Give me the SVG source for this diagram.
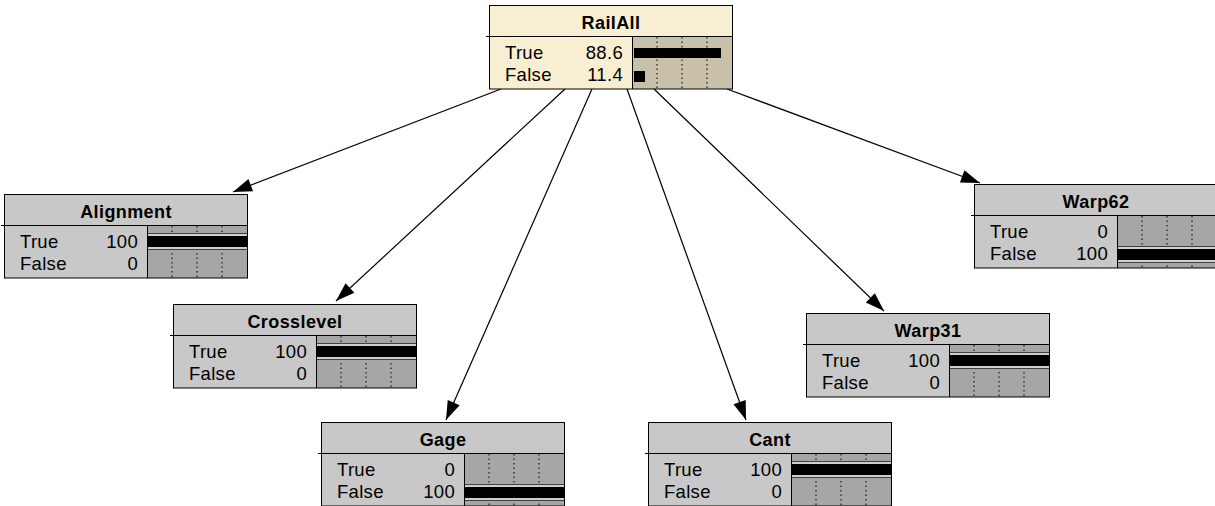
<svg xmlns="http://www.w3.org/2000/svg" xmlns:xlink="http://www.w3.org/1999/xlink" width="1215" height="506" viewBox="0 0 1215 506">
<style>
  .t { font-family: "Liberation Sans", Arial, sans-serif; font-size: 18.5px; letter-spacing: 0.3px; fill: #000; }
  .ttl { font-family: "Liberation Sans", Arial, sans-serif; font-size: 18px; font-weight: bold; letter-spacing: 0.4px; fill: #000; text-anchor: middle; }
  .v { text-anchor: end; }
  .gt { fill: #c8c8c8; }
  .gb { fill: #a6a6a6; }
  .ct { fill: #f8efd2; }
  .cb { fill: #c9c0aa; }
  .ol { fill: none; stroke: #000; stroke-width: 1; }
  .ln { stroke: #000; stroke-width: 1; }
  .tick { stroke: #000; stroke-width: 1; stroke-dasharray: 1.5 3; }
  .bar { fill: #000; }
  .dk { fill: #404040; }
  .lt { fill: #cfcfcf; }
  .edge { stroke: #000; stroke-width: 1.2; fill: none; marker-end: url(#arr); }
</style>
<defs>
  <marker id="arr" markerUnits="userSpaceOnUse" markerWidth="22" markerHeight="16" viewBox="-20 -8 22 16" refX="0" refY="0" orient="auto">
    <path d="M0,0 L-19,-6.5 L-19,6.5 Z" fill="#000"/>
  </marker>
  <g id="ticks">
    <line class="tick" x1="168" y1="32" x2="168" y2="84"/>
    <line class="tick" x1="193" y1="32" x2="193" y2="84"/>
    <line class="tick" x1="218" y1="32" x2="218" y2="84"/>
  </g>
  <g id="full1">
    <rect class="dk" x="143" y="39" width="100" height="1"/>
    <rect class="lt" x="143" y="40" width="100" height="2"/>
    <rect class="bar" x="143" y="42" width="100" height="11"/>
    <rect class="lt" x="143" y="53" width="100" height="2"/>
    <rect class="dk" x="143" y="55" width="100" height="1"/>
  </g>
  <g id="full2">
    <rect class="dk" x="143" y="62" width="100" height="1"/>
    <rect class="lt" x="143" y="63" width="100" height="2"/>
    <rect class="bar" x="143" y="65" width="100" height="11"/>
    <rect class="lt" x="143" y="76" width="100" height="2"/>
    <rect class="dk" x="143" y="78" width="100" height="1"/>
  </g>
  <g id="frame">
    <line class="ln" x1="-3" y1="31.5" x2="243" y2="31.5"/>
    <line class="ln" x1="143.5" y1="31.5" x2="143.5" y2="84"/>
    <rect class="ol" x="0.5" y="0.5" width="243" height="83.5"/>
  </g>
  <g id="labels">
    <text class="t" x="16" y="54">True</text>
    <text class="t" x="16" y="76">False</text>
  </g>
</defs>

<g id="connectors">
  <line class="edge" x1="501" y1="89" x2="233" y2="192"/>
  <line class="edge" x1="565" y1="89" x2="336" y2="301"/>
  <line class="edge" x1="592" y1="89" x2="446" y2="420"/>
  <line class="edge" x1="627" y1="89" x2="746" y2="420"/>
  <line class="edge" x1="654" y1="89" x2="884" y2="311"/>
  <line class="edge" x1="727" y1="89" x2="980" y2="183"/>
</g>

<g id="RailAll" transform="translate(489,5)">
  <rect class="ct" x="0" y="0" width="244" height="84"/>
  <rect class="cb" x="143" y="32" width="101" height="52"/>
  <use xlink:href="#ticks"/>
  <rect class="bar" x="145" y="43" width="87" height="10"/>
  <rect class="bar" x="145" y="66" width="11" height="11"/>
  <use xlink:href="#frame"/>
  <text class="ttl" x="122" y="24">RailAll</text>
  <use xlink:href="#labels"/>
  <text class="t v" x="134" y="54">88.6</text>
  <text class="t v" x="134" y="76">11.4</text>
</g>

<g id="Alignment" transform="translate(4,194)">
  <rect class="gt" x="0" y="0" width="244" height="84"/>
  <rect class="gb" x="143" y="32" width="101" height="52"/>
  <use xlink:href="#ticks"/>
  <use xlink:href="#full1"/>
  <use xlink:href="#frame"/>
  <text class="ttl" x="122" y="24">Alignment</text>
  <use xlink:href="#labels"/>
  <text class="t v" x="134" y="54">100</text>
  <text class="t v" x="134" y="76">0</text>
</g>

<g id="Crosslevel" transform="translate(173,304)">
  <rect class="gt" x="0" y="0" width="244" height="84"/>
  <rect class="gb" x="143" y="32" width="101" height="52"/>
  <use xlink:href="#ticks"/>
  <use xlink:href="#full1"/>
  <use xlink:href="#frame"/>
  <text class="ttl" x="122" y="24">Crosslevel</text>
  <use xlink:href="#labels"/>
  <text class="t v" x="134" y="54">100</text>
  <text class="t v" x="134" y="76">0</text>
</g>

<g id="Gage" transform="translate(321,422)">
  <rect class="gt" x="0" y="0" width="244" height="84"/>
  <rect class="gb" x="143" y="32" width="101" height="52"/>
  <use xlink:href="#ticks"/>
  <use xlink:href="#full2"/>
  <use xlink:href="#frame"/>
  <text class="ttl" x="122" y="24">Gage</text>
  <use xlink:href="#labels"/>
  <text class="t v" x="134" y="54">0</text>
  <text class="t v" x="134" y="76">100</text>
</g>

<g id="Cant" transform="translate(648,422)">
  <rect class="gt" x="0" y="0" width="244" height="84"/>
  <rect class="gb" x="143" y="32" width="101" height="52"/>
  <use xlink:href="#ticks"/>
  <use xlink:href="#full1"/>
  <use xlink:href="#frame"/>
  <text class="ttl" x="122" y="24">Cant</text>
  <use xlink:href="#labels"/>
  <text class="t v" x="134" y="54">100</text>
  <text class="t v" x="134" y="76">0</text>
</g>

<g id="Warp31" transform="translate(806,313)">
  <rect class="gt" x="0" y="0" width="244" height="84"/>
  <rect class="gb" x="143" y="32" width="101" height="52"/>
  <use xlink:href="#ticks"/>
  <use xlink:href="#full1"/>
  <use xlink:href="#frame"/>
  <text class="ttl" x="122" y="24">Warp31</text>
  <use xlink:href="#labels"/>
  <text class="t v" x="134" y="54">100</text>
  <text class="t v" x="134" y="76">0</text>
</g>

<g id="Warp62" transform="translate(974,184)">
  <rect class="gt" x="0" y="0" width="244" height="84"/>
  <rect class="gb" x="143" y="32" width="101" height="52"/>
  <use xlink:href="#ticks"/>
  <use xlink:href="#full2"/>
  <use xlink:href="#frame"/>
  <text class="ttl" x="122" y="24">Warp62</text>
  <use xlink:href="#labels"/>
  <text class="t v" x="134" y="54">0</text>
  <text class="t v" x="134" y="76">100</text>
</g>
</svg>
